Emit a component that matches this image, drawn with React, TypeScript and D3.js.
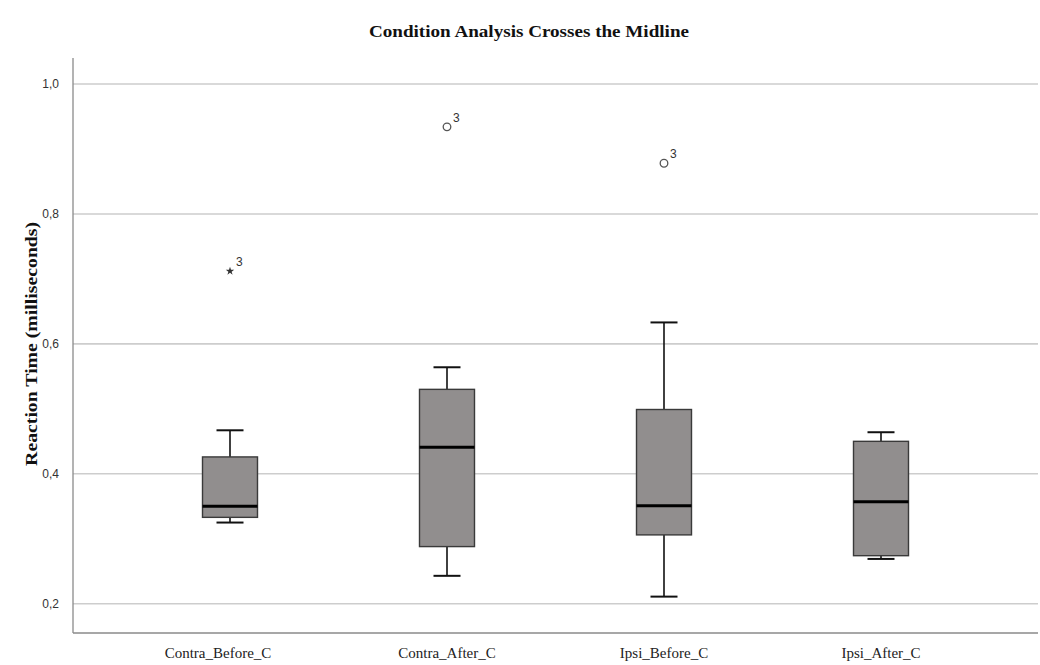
import React from "react";
import * as d3 from "d3";

const categories = ["Contra_Before_C", "Contra_After_C", "Ipsi_Before_C", "Ipsi_After_C"];
const whiskerLow = [0.325, 0.243, 0.211, 0.269];
const q1 = [0.333, 0.288, 0.306, 0.274];
const median = [0.35, 0.441, 0.351, 0.357];
const q3 = [0.426, 0.53, 0.499, 0.45];
const whiskerHigh = [0.467, 0.564, 0.633, 0.464];
const outlierValues = [0.712, 0.934, 0.878, null];
const outlierKinds = ["star", "circle", "circle", null];
const outlierLabels = ["3", "3", "3", null];
const yTicks = [0.2, 0.4, 0.6, 0.8, 1.0];

const W = 1040;
const H = 665;

export default function App() {
  const y = d3.scaleLinear().domain([0.155, 1.04]).range([633, 58]);
  const x = d3.scalePoint<string>().domain(categories).range([230, 881]);
  const plotLeft = 73;
  const plotRight = 1038;
  const boxW = 55;
  const capW = 27;
  const fmt = (v: number) => d3.format(".1f")(v).replace(".", ",");
  const star = d3.symbol().type(d3.symbolStar).size(22)() as string;

  return (
    <svg
      width={W}
      height={H}
      style={{ position: "absolute", left: 0, top: 0, background: "#fff" }}
    >
      <text
        x={529}
        y={37}
        textAnchor="middle"
        fontFamily="'Liberation Serif', serif"
        fontWeight="bold"
        fontSize={16}
        fill="#111"
        textLength={320}
        lengthAdjust="spacingAndGlyphs"
      >
        Condition Analysis Crosses the Midline
      </text>

      {yTicks.map((t) => (
        <g key={t}>
          <line
            x1={plotLeft}
            x2={plotRight}
            y1={y(t)}
            y2={y(t)}
            stroke="#cdcdcd"
            strokeWidth={1.6}
          />
          <text
            x={59}
            y={y(t) + 4}
            textAnchor="end"
            fontFamily="'Liberation Sans', Arial, sans-serif"
            fontSize={12}
            fill="#333"
          >
            {fmt(t)}
          </text>
        </g>
      ))}

      <line x1={plotLeft} x2={plotLeft} y1={y(1.04)} y2={y(0.155)} stroke="#8a8a8a" strokeWidth={1.3} />
      <line x1={plotLeft} x2={plotRight} y1={y(0.155)} y2={y(0.155)} stroke="#8a8a8a" strokeWidth={1.3} />

      <text
        transform={`translate(37,${y(0.6)}) rotate(-90)`}
        textAnchor="middle"
        fontFamily="'Liberation Serif', serif"
        fontWeight="bold"
        fontSize={16}
        fill="#111"
        textLength={244}
        lengthAdjust="spacingAndGlyphs"
      >
        Reaction Time (milliseconds)
      </text>

      {categories.map((c, i) => {
        const cx = x(c) as number;
        const ov = outlierValues[i];
        return (
          <g key={c}>
            <line x1={cx} x2={cx} y1={y(whiskerHigh[i])} y2={y(q3[i])} stroke="#111" strokeWidth={1.6} />
            <line x1={cx} x2={cx} y1={y(q1[i])} y2={y(whiskerLow[i])} stroke="#111" strokeWidth={1.6} />
            <line x1={cx - capW / 2} x2={cx + capW / 2} y1={y(whiskerHigh[i])} y2={y(whiskerHigh[i])} stroke="#111" strokeWidth={2} />
            <line x1={cx - capW / 2} x2={cx + capW / 2} y1={y(whiskerLow[i])} y2={y(whiskerLow[i])} stroke="#111" strokeWidth={2} />
            <rect
              x={cx - boxW / 2}
              y={y(q3[i])}
              width={boxW}
              height={y(q1[i]) - y(q3[i])}
              fill="#918e8e"
              stroke="#3a3a3a"
              strokeWidth={1.4}
            />
            <line x1={cx - boxW / 2} x2={cx + boxW / 2} y1={y(median[i])} y2={y(median[i])} stroke="#000" strokeWidth={3} />
            {ov !== null && (
              <g>
                {outlierKinds[i] === "star" ? (
                  <path d={star} transform={`translate(${cx},${y(ov)})`} fill="#333" />
                ) : (
                  <circle cx={cx} cy={y(ov)} r={3.8} fill="none" stroke="#555" strokeWidth={1.3} />
                )}
                <text
                  x={cx + 6}
                  y={y(ov) - 5}
                  fontFamily="'Liberation Sans', Arial, sans-serif"
                  fontSize={12}
                  fill="#333"
                >
                  {outlierLabels[i]}
                </text>
              </g>
            )}
            <text
              x={cx - (i === 0 ? 12 : 0)}
              y={658}
              textAnchor="middle"
              fontFamily="'Liberation Serif', serif"
              fontSize={15}
              fill="#222"
            >
              {c}
            </text>
          </g>
        );
      })}
    </svg>
  );
}
